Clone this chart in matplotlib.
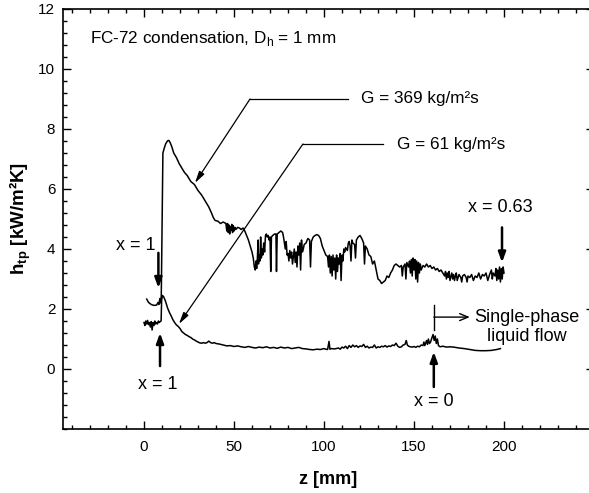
import numpy as np
import matplotlib
matplotlib.use("Agg")
import matplotlib.pyplot as plt
from matplotlib.ticker import MultipleLocator

plt.rcParams['font.family'] = ['Liberation Sans', 'DejaVu Sans']
plt.rcParams['mathtext.fontset'] = 'custom'
plt.rcParams['mathtext.rm'] = 'Liberation Sans'
plt.rcParams['mathtext.bf'] = 'Liberation Sans:bold'

# G = 369 kg/m2s
z_369 = [1.5, 2.5, 4, 5.5, 7, 7.8, 8.3, 8.8, 9.3, 9.6,
         10.0, 10.5, 11.2, 12, 13, 13.8, 14.5, 15.5, 16.5, 18, 19.5, 21, 22.5, 24, 26, 28, 30, 32, 34, 36,
         37.5, 38.5, 39.5, 41, 42.5, 44, 45.5,
         46, 46.4, 46.8, 47.2, 47.6, 48, 48.4, 48.8, 49.2, 49.6, 50, 50.5, 51, 52, 53, 54, 55, 56, 57, 58, 59, 60,
         60.7, 61.3, 61.8, 62.2, 62.6, 63, 63.4, 63.6, 64, 64.4, 64.8, 65.2, 65.6, 66, 66.5, 67, 67.5, 68, 68.5,
         69, 69.5, 70, 70.4, 70.8, 71.5, 72.5, 73.3, 73.6, 74, 75, 76, 77, 77.5, 78, 78.5, 79, 79.5, 80, 80.5,
         81, 81.5, 82, 82.5, 83, 83.5, 84, 84.5, 85, 85.5, 86, 86.5, 87, 87.5, 88, 88.5, 89, 90, 91, 92, 92.5,
         93, 94, 95, 96, 97, 98, 99, 100, 101, 102, 102.5, 103, 103.5, 104, 104.5, 105, 105.5, 106, 106.5, 107,
         107.5, 108, 108.5, 109, 109.5, 110, 110.5, 111, 111.5, 112, 113, 113.5, 114, 114.5, 115, 115.5, 116,
         117, 117.5, 118, 119, 120, 121, 122, 122.5, 123, 124, 125, 126, 127, 128, 129, 130, 131, 132, 133,
         134, 135, 136, 137, 138, 139, 140, 141, 142, 143, 143.5, 144, 145, 145.5, 146, 147, 147.5, 148, 148.5,
         149, 149.5, 150, 150.5, 151, 151.5, 152, 152.5, 153, 153.5, 154, 155, 156, 157, 158, 159, 160, 161,
         162, 163, 164, 165, 166, 167, 167.5, 168, 168.5, 169, 169.5, 170, 171, 171.5, 172, 172.5, 173, 173.5,
         174, 175, 176, 176.5, 177, 178, 179, 179.5, 180, 181, 182, 183, 184, 185, 186, 187, 188, 189, 190,
         191, 192, 193, 193.5, 194, 195, 195.5, 196, 196.5, 197, 197.5, 198, 198.5, 199, 199.5, 200]
h_369 = [2.33, 2.22, 2.15, 2.12, 2.13, 2.22, 2.15, 2.35, 2.2, 2.45,
         4.5, 7.2, 7.35, 7.5, 7.6, 7.62, 7.55, 7.4, 7.2, 7.05, 6.85, 6.7, 6.55, 6.45, 6.25, 6.15, 5.95, 5.8, 5.6, 5.4,
         5.2, 5.05, 4.95, 4.93, 4.85, 4.9, 4.85,
         4.6, 4.85, 4.55, 4.8, 4.5, 4.75, 4.62, 4.82, 4.55, 4.78, 4.6, 4.72, 4.65, 4.72, 4.7, 4.65, 4.7, 4.6, 4.45, 4.3, 4.1, 3.9,
         3.7, 3.4, 3.3, 3.6, 3.35, 3.7, 4.3, 3.5, 3.8, 3.6, 4.4, 3.7, 4.0, 3.8, 4.2, 3.9, 4.45, 4.5, 4.4,
         4.45, 4.3, 4.4, 3.25, 4.4, 4.45, 4.5, 4.5, 3.25, 4.5, 4.55, 4.6, 4.55, 4.4, 4.2, 4.0, 4.25, 3.8, 3.85, 3.6,
         3.95, 3.7, 3.9, 3.5, 3.75, 4.0, 3.55, 3.9, 3.4, 4.1, 3.8, 4.2, 3.3, 4.3, 3.9, 4.0, 4.15, 4.2, 4.35, 4.3, 3.4,
         4.25, 4.4, 4.45, 4.48, 4.45, 4.35, 4.1, 3.95, 3.8, 3.75, 3.4, 3.8, 3.2, 3.75, 3.1, 3.8, 3.3, 3.7, 3.0, 3.8,
         3.25, 3.7, 3.5, 3.85, 2.95, 3.8, 3.6, 4.0, 3.9, 4.05, 3.95, 4.2, 4.25, 4.1, 3.6, 4.3, 4.2,
         4.15, 3.7, 4.3, 4.4, 4.45, 4.35, 4.2, 3.5, 4.1, 4.0, 3.8, 3.75, 3.5, 3.6, 3.3, 3.0, 2.95, 2.85, 2.9,
         2.95, 3.1, 3.05, 3.2, 3.3, 3.45, 3.5, 3.45, 3.4, 3.45, 3.1, 3.4, 3.5, 3.0, 3.55, 3.4, 3.6, 3.2, 3.65,
         3.1, 3.7, 3.3, 3.65, 3.0, 3.6, 2.9, 3.55, 3.2, 3.5, 3.3, 3.45, 3.4, 3.5, 3.4, 3.45, 3.35, 3.4,
         3.3, 3.35, 3.25, 3.3, 3.2, 3.1, 3.25, 3.0, 3.2, 3.05, 3.25, 2.95, 3.2, 3.0, 3.15, 2.95, 3.1, 3.2,
         2.95, 3.15, 3.05, 2.9, 3.1, 3.15, 3.05, 2.9, 3.1, 3.05, 3.15, 2.95, 3.1, 3.05, 3.2, 3.0, 3.15, 3.1, 3.2,
         2.95, 3.15, 3.3, 3.0, 3.2, 3.1, 3.35, 2.95, 3.3, 3.0, 3.4, 2.9, 3.35, 3.0, 3.4, 3.2]

# G = 61 kg/m2s
z_61 = [0, 0.5, 1, 1.5, 2, 2.5, 3, 3.5, 4, 4.5, 5, 5.5, 6, 6.5, 7, 7.5, 8, 8.5, 9, 9.5,
        9.8, 10.3, 11, 12, 13, 14, 15, 16, 17, 18, 19, 20, 21, 22, 23, 24, 25, 26, 27, 28, 29, 30,
        31, 32, 33, 34, 35, 36, 37, 38, 39, 40, 42, 44, 46, 48, 50, 52, 54, 56, 58, 60, 62, 64, 66,
        68, 70, 72, 74, 76, 78, 80, 82, 84, 86, 88, 90, 92, 94, 96, 98, 100, 101, 102, 102.8, 103.3,
        104, 106, 108, 109, 110, 111, 112, 113, 114, 115, 116, 117, 118, 119, 120, 121, 122, 123, 124,
        125, 126, 127, 128, 129, 130, 131, 132, 133, 134, 135, 136, 137, 138, 139, 140, 141, 142, 143,
        144, 145, 145.7, 146.3, 147, 148, 149, 150, 151, 152, 153, 154, 155, 155.5, 156, 157, 157.5,
        158, 158.6, 159.2, 160, 160.6, 161.2, 161.8, 162.4, 163, 163.6, 164.5, 166, 168, 170, 172,
        175, 178, 181, 184, 187, 190, 193, 196, 198]
h_61 = [1.55, 1.45, 1.6, 1.5, 1.62, 1.48, 1.55, 1.4, 1.58, 1.3, 1.55, 1.45, 1.6, 1.5, 1.55, 1.5, 1.6, 1.55, 1.58, 1.6,
        2.3, 2.45, 2.4, 2.25, 2.05, 1.9, 1.78, 1.65, 1.55, 1.47, 1.42, 1.35, 1.25, 1.2, 1.15, 1.12, 1.08, 1.05, 1.0, 0.97, 0.93, 0.9,
        0.87, 0.86, 0.88, 0.86, 0.88, 0.93, 0.88, 0.86, 0.88, 0.85, 0.83, 0.8, 0.77, 0.78, 0.75, 0.77, 0.74, 0.72, 0.75, 0.72, 0.7, 0.73, 0.71,
        0.74, 0.7, 0.72, 0.69, 0.73, 0.7, 0.72, 0.68, 0.7, 0.72, 0.68, 0.67, 0.65, 0.64, 0.66, 0.65, 0.68, 0.66, 0.65, 0.92, 0.66,
        0.68, 0.67, 0.7, 0.66, 0.73, 0.7, 0.76, 0.68, 0.78, 0.72, 0.8, 0.74, 0.78, 0.72, 0.77, 0.75, 0.82, 0.72, 0.76,
        0.7, 0.73, 0.72, 0.8, 0.7, 0.74, 0.72, 0.76, 0.74, 0.78, 0.73, 0.77, 0.75, 0.8, 0.78, 0.86, 0.76, 0.72, 0.74,
        0.8, 0.82, 0.95, 0.8, 0.76, 0.74, 0.73, 0.75, 0.72, 0.76, 0.74, 0.8, 0.78, 0.9, 0.78, 0.95, 0.82,
        1.0, 0.85, 0.9, 1.05, 1.15, 0.95, 1.1, 0.85, 1.0, 0.78, 0.74, 0.76, 0.73, 0.74, 0.73,
        0.7, 0.68, 0.65, 0.62, 0.61, 0.61, 0.62, 0.65, 0.68]

fig = plt.figure(figsize=(5.89, 4.93), dpi=100)
ax = fig.add_axes([63 / 589, 64 / 493, 531 / 589, 420 / 493])

ax.plot(z_369, h_369, color='black', lw=1.1)
ax.plot(z_61, h_61, color='black', lw=1.1)

ax.set_xlim(-45, 250)
ax.set_ylim(-2, 12)
ax.xaxis.set_major_locator(MultipleLocator(50))
ax.xaxis.set_minor_locator(MultipleLocator(10))
ax.yaxis.set_major_locator(MultipleLocator(2))
ax.yaxis.set_minor_locator(MultipleLocator(0.4))
ax.tick_params(which='both', direction='in', top=True, right=True, labelsize=11, width=1)
ax.tick_params(which='major', length=6)
ax.tick_params(which='minor', length=3)
ax.tick_params(axis='x', which='major', pad=8)
ax.tick_params(axis='y', which='major', pad=5.5)
ax.set_xticks([0, 50, 100, 150, 200])
ax.set_yticks([0, 2, 4, 6, 8, 10, 12])
for s in ax.spines.values():
    s.set_linewidth(1.2)

ax.set_xlabel('z [mm]', fontsize=13, fontweight='bold', labelpad=12)
ax.set_ylabel(r'h$_\mathregular{tp}$ [kW/m²K]', fontsize=13.5, fontweight='bold', labelpad=4)

ax.text(-30, 11.0, r'FC-72 condensation, D$_\mathregular{h}$ = 1 mm', fontsize=12.3, va='center')

# leader for G = 369
ax.plot([58.9, 113.3], [9.0, 9.0], color='black', lw=0.9)
ax.annotate('', xy=(28.3, 6.2), xytext=(58.9, 9.0),
            arrowprops=dict(arrowstyle='-|>,head_length=0.7,head_width=0.18', color='black', lw=0.9,
                            shrinkA=0, shrinkB=0))
ax.text(120.6, 9.0, 'G = 369 kg/m²s', fontsize=12.3, va='center')

# leader for G = 61
ax.plot([88.3, 132.8], [7.5, 7.5], color='black', lw=0.9)
ax.annotate('', xy=(19.4, 1.5), xytext=(88.3, 7.5),
            arrowprops=dict(arrowstyle='-|>,head_length=0.7,head_width=0.18', color='black', lw=0.9,
                            shrinkA=0, shrinkB=0))
ax.text(140.6, 7.5, 'G = 61 kg/m²s', fontsize=12.3, va='center')

bold_arrow = dict(arrowstyle='-|>,head_length=0.6,head_width=0.22', color='black', lw=1.8,
                  shrinkA=0, shrinkB=0)

# x = 0.63
ax.text(197.8, 5.37, 'x = 0.63', fontsize=13, ha='center', va='center')
ax.annotate('', xy=(198.9, 3.55), xytext=(198.9, 4.72), arrowprops=bold_arrow)

# x = 1 (upper)
ax.text(-4.4, 4.13, 'x = 1', fontsize=13, ha='center', va='center')
ax.annotate('', xy=(8.0, 2.7), xytext=(8.0, 3.87), arrowprops=bold_arrow)

# x = 1 (lower)
ax.text(7.8, -0.53, 'x = 1', fontsize=13, ha='center', va='center')
ax.annotate('', xy=(8.9, 1.2), xytext=(8.9, 0.1), arrowprops=bold_arrow)

# x = 0
ax.text(161, -1.1, 'x = 0', fontsize=13, ha='center', va='center')
ax.annotate('', xy=(161, 0.57), xytext=(161, -0.6), arrowprops=bold_arrow)

# single-phase region
ax.plot([161, 161], [1.3, 2.13], color='black', lw=1.0)
ax.annotate('', xy=(181, 1.73), xytext=(161, 1.73),
            arrowprops=dict(arrowstyle='->,head_length=0.6,head_width=0.25', color='black', lw=1.0,
                            shrinkA=0, shrinkB=0))
ax.text(212.8, 1.4, 'Single-phase\nliquid flow', fontsize=13, ha='center', va='center', linespacing=1.1)

fig.savefig('out.png', dpi=100)
